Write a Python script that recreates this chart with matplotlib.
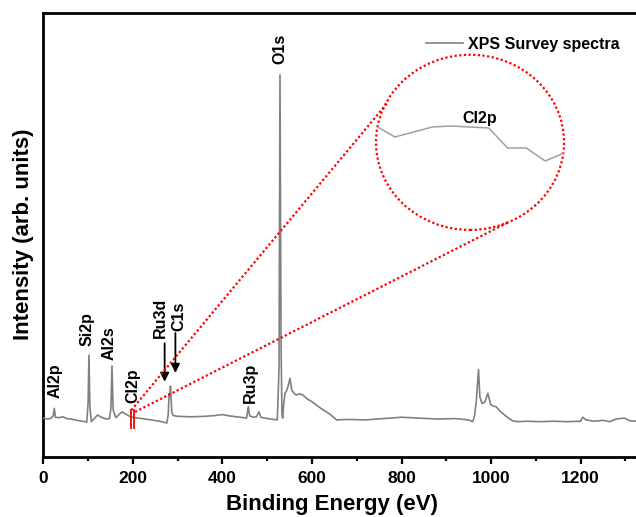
import matplotlib

matplotlib.use("Agg")
import matplotlib.pyplot as plt
from matplotlib.patches import Ellipse
from matplotlib.ticker import MultipleLocator

plt.rcParams["font.family"] = ["Liberation Sans", "DejaVu Sans"]
plt.rcParams["font.weight"] = "bold"

# Survey spectrum (binding energy in eV, intensity in arb. units)
energy = [0, 8, 16, 22, 24.6, 27, 35, 44, 52, 62, 75, 88, 97, 100, 102, 104, 107,
          114, 121, 130, 140, 148, 151, 153.4, 156, 162, 170, 176, 184, 195, 205,
          220, 240, 260, 276, 279, 281, 282.5, 284, 285.5, 287, 290, 300, 330, 360,
          385, 400, 415, 440, 454, 457.8, 461, 470, 476, 481.7, 486, 500, 515,
          522.6, 526.5, 528.6, 531, 533, 534.6, 537, 539.8, 543, 547, 550.9, 555,
          560, 565, 572, 580, 590, 600, 620, 640, 655, 680, 720, 760, 800, 840,
          880, 920, 950, 959, 963, 967, 972, 975, 979.7, 986, 993, 999, 1005,
          1011, 1022, 1035, 1048, 1060, 1080, 1110, 1140, 1170, 1200, 1204.6,
          1212, 1230, 1250, 1265, 1279, 1297.5, 1310, 1325, 1340]
intensity = [8.7, 8.5, 8.6, 9.2, 10.9, 8.9, 8.8, 9.0, 8.6, 8.5, 8.2, 8.0, 7.8, 12.0,
             22.9, 11.5, 7.9, 8.6, 9.4, 8.9, 8.5, 8.6, 11.0, 20.5, 10.5, 8.8, 9.6,
             10.1, 9.6, 9.0, 8.8, 8.6, 8.3, 8.0, 7.6, 9.5, 14.2, 13.6, 15.9, 13.0,
             10.0, 9.3, 9.1, 9.0, 9.1, 9.3, 9.5, 9.2, 8.9, 8.7, 11.3, 9.2, 8.9, 9.0,
             10.1, 8.9, 8.6, 8.4, 8.3, 20.0, 86.1, 25.0, 9.5, 8.7, 12.0, 14.3, 14.8,
             16.0, 17.7, 15.0, 14.3, 13.9, 14.2, 13.9, 13.0, 12.4, 10.9, 9.6, 8.3,
             8.4, 8.3, 8.6, 8.9, 8.7, 8.5, 8.6, 8.3, 7.9, 9.2, 12.5, 19.7, 13.5,
             12.0, 12.3, 14.3, 11.8, 11.4, 11.3, 10.1, 9.0, 8.1, 7.9, 8.0, 7.9, 8.0,
             7.9, 8.0, 8.9, 8.3, 8.0, 8.2, 7.9, 8.5, 8.7, 8.1, 8.0, 8.1]

# Magnified Cl2p segment shown inside the circle
cl2p_energy = [195, 196, 197, 198, 199, 200, 201, 202, 203, 204, 205]
cl2p_intensity = [44, 33, 38, 43, 44, 43, 42, 22, 22, 9, 17]

# Peak labels: name, label x (eV), label bottom (arb. units)
peak_names = ["Al2p", "Si2p", "Al2s", "Cl2p", "Ru3d", "C1s", "Ru3p", "O1s"]
peak_label_x = [26, 98.5, 146, 200, 261, 303, 462, 528.6]
peak_label_y = [13.2, 25.0, 21.8, 12.0, 26.8, 28.4, 12.2, 88.6]

GRAY = "#808080"
RED = "#ff0000"

fig = plt.figure(figsize=(6.36, 5.17), dpi=100)
ax = fig.add_axes([43.3 / 636, 60.3 / 517, 600 / 636, 443.4 / 517])

ax.plot(energy, intensity, color=GRAY, lw=1.2, label="XPS Survey spectra", zorder=3)

ax.set_xlim(0, 1340)
ax.set_ylim(0, 100)
ax.xaxis.set_major_locator(MultipleLocator(200))
ax.xaxis.set_minor_locator(MultipleLocator(100))
ax.set_yticks([])
ax.tick_params(axis="x", which="major", direction="out", length=5, width=1.6,
               labelsize=12.5, pad=5.5)
ax.tick_params(axis="x", which="minor", direction="out", length=3, width=1.6)
for lab in ax.get_xticklabels():
    lab.set_fontweight("bold")
for s in ax.spines.values():
    s.set_linewidth(2)

fig.text(332 / 636, 7 / 517, "Binding Energy (eV)", ha="center", va="baseline",
         fontsize=16, fontweight="bold")
fig.text(24 / 636, 1 - 234.5 / 517, "Intensity (arb. units)", rotation=90,
         ha="center", va="center", fontsize=16, fontweight="bold")

for name, lx, ly in zip(peak_names, peak_label_x, peak_label_y):
    ax.text(lx, ly, name, rotation=90, ha="center", va="bottom",
            fontsize=11.5, fontweight="bold")

# arrows for Ru3d and C1s
for ax_x, y0, y1 in ((271, 25.6, 16.9), (295, 27.9, 18.9)):
    ax.annotate("", xy=(ax_x, y1), xytext=(ax_x, y0),
                arrowprops=dict(arrowstyle="-|>", color="k", lw=1.3,
                                mutation_scale=13, shrinkA=0, shrinkB=0))

# Cl2p marker bars
for bx in (195, 203):
    ax.plot([bx, bx], [6.4, 10.5], color=RED, lw=1.3, zorder=4)

# zoom lines and circle
dots = (0, (1, 1.1))
ax.plot([196.5, 771], [10.5, 80.1], color=RED, lw=1.6, ls=dots, zorder=4)
ax.plot([205, 1037], [10.1, 52.8], color=RED, lw=1.6, ls=dots, zorder=4)
ax.add_patch(Ellipse((953, 70.9), 420, 39.5, fill=False, edgecolor=RED, lw=1.6,
                     ls=dots, zorder=4))
ax.text(975, 76.3, "Cl2p", ha="center", va="center", fontsize=11.5,
        fontweight="bold")

ins = fig.add_axes([376 / 636, (517 - 170) / 517, 188 / 636, 60 / 517])
ins.plot(cl2p_energy, cl2p_intensity, color="#a0a0a0", lw=1.1)
ins.set_xlim(195, 205)
ins.set_ylim(0, 60)
ins.axis("off")

ax.legend(loc="center left", bbox_to_anchor=(426 / 636, 1 - 44.5 / 517),
          bbox_transform=fig.transFigure, frameon=False, borderpad=0,
          borderaxespad=0, handlelength=2.3, handletextpad=0.35,
          prop={"size": 11.5, "weight": "bold"})

fig.savefig("out.png", dpi=100)
